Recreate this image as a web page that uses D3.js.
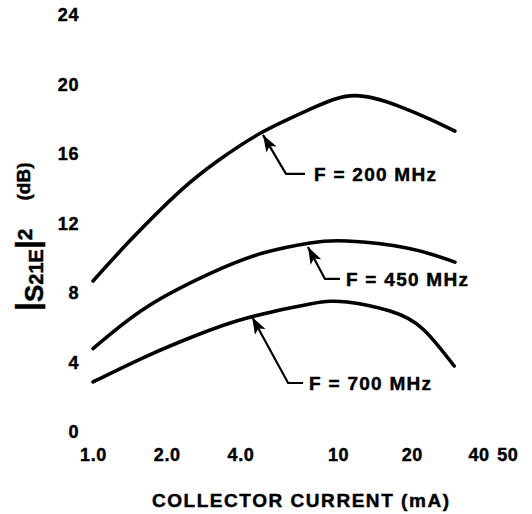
<!DOCTYPE html>
<html>
<head>
<meta charset="utf-8">
<script src="https://cdn.jsdelivr.net/npm/d3@7"></script>
<style>
  html, body { margin: 0; padding: 0; background: #fff; }
  svg { display: block; }
  text { font-family: "Liberation Sans", Arial, Helvetica, sans-serif; font-weight: bold; fill: #000;
         stroke: #000; stroke-width: 0.45px; }
</style>
</head>
<body>
<svg id="chart" width="532" height="514"></svg>
<script>
// ---- data ----
const xTickValues = [1, 2, 4, 10, 20, 40, 50];
const xTickLabels = ["1.0", "2.0", "4.0", "10", "20", "40", "50"];
const yTickValues = [0, 4, 8, 12, 16, 20, 24];
const yTickLabels = ["0", "4", "8", "12", "16", "20", "24"];

const seriesNames = ["F = 200 MHz", "F = 450 MHz", "F = 700 MHz"];
const current200 = [1.0, 1.42, 2.26, 3.30, 4.94, 7.69, 11.7, 17.9, 23.7, 30.0];
const gain200    = [8.69, 11.03, 13.85, 15.70, 17.28, 18.58, 19.36, 18.73, 18.01, 17.32];
const current450 = [1.0, 1.66, 3.09, 4.94, 7.69, 10.9, 19.1, 30.0];
const gain450    = [4.8, 7.2, 9.2, 10.3, 10.88, 10.99, 10.59, 9.78];
const current700 = [1.0, 1.66, 2.66, 4.25, 7.69, 10.9, 16.3, 22.2, 29.8];
const gain700    = [2.88, 4.37, 5.58, 6.56, 7.37, 7.48, 6.96, 5.93, 3.80];

// arrow tips (collector current mA, gain dB)
const arrowTipCurrent = [4.94, 7.54, 4.46];
const arrowTipGain    = [17.1, 10.65, 6.62];

const xTitle = "COLLECTOR CURRENT (mA)";

// ---- drawing ----
const svg = d3.select("#chart");
const x = d3.scaleLog().domain([1, 50]).range([93, 93 + 245 * Math.log10(50)]);
const y = d3.scaleLinear().domain([0, 24]).range([432, 15]);

// x tick labels
const xAxis = d3.axisBottom(x).tickValues(xTickValues)
  .tickFormat((d, i) => xTickLabels[i]).tickSize(0).tickPadding(0);
const gx = svg.append("g").attr("transform", "translate(0,448)").call(xAxis);
gx.select(".domain").remove();
gx.selectAll("text")
  .attr("font-family", null).attr("fill", "#000")
  .style("font-size", "18px").style("letter-spacing", "0.6px")
  .attr("dy", "0.71em")
  .attr("dx", (d) => d === 40 ? -7 : (d === 50 ? -2 : 0));

// y tick labels
const yAxis = d3.axisLeft(y).tickValues(yTickValues)
  .tickFormat((d, i) => yTickLabels[i]).tickSize(0).tickPadding(0);
const gy = svg.append("g").attr("transform", "translate(79,0)").call(yAxis);
gy.select(".domain").remove();
gy.selectAll("text")
  .attr("font-family", null).attr("fill", "#000")
  .style("font-size", "18px").style("letter-spacing", "0.6px");

// curves
const line = d3.line()
  .x((d) => x(d[0])).y((d) => y(d[1]))
  .curve(d3.curveNatural);
const seriesData = [
  d3.zip(current200, gain200),
  d3.zip(current450, gain450),
  d3.zip(current700, gain700)
];
svg.append("g").selectAll("path").data(seriesData).join("path")
  .attr("d", line)
  .attr("fill", "none")
  .attr("stroke", "#000")
  .attr("stroke-width", 3.6)
  .attr("stroke-linecap", "round");

// annotations: pixel offsets from tip: elbow, end of leader, text start
const annOffsets = [
  { ex: 23, ey: 39, lx: 42, tx: 51 },
  { ex: 17, ey: 32, lx: 32, tx: 38 },
  { ex: 36, ey: 66, lx: 51, tx: 57 }
];
const ann = svg.append("g");
seriesNames.forEach((name, i) => {
  const tx = x(arrowTipCurrent[i]), ty = y(arrowTipGain[i]);
  const o = annOffsets[i];
  const ex = tx + o.ex, ey = ty + o.ey;
  ann.append("path")
    .attr("d", d3.line()([[tx, ty], [ex, ey], [tx + o.lx, ey]]))
    .attr("fill", "none").attr("stroke", "#000").attr("stroke-width", 2.2);
  const ang = Math.atan2(ty - ey, tx - ex);
  const L = 17, W = 6;
  const bx = tx - L * Math.cos(ang), by = ty - L * Math.sin(ang);
  const px = -Math.sin(ang), py = Math.cos(ang);
  ann.append("path")
    .attr("d", `M${tx},${ty}L${bx + W * px},${by + W * py}L${bx + 4 * Math.cos(ang)},${by + 4 * Math.sin(ang)}L${bx - W * px},${by - W * py}Z`)
    .attr("fill", "#000");
  ann.append("text")
    .attr("x", tx + o.tx).attr("y", ey)
    .attr("dy", "0.36em")
    .attr("textLength", 122).attr("lengthAdjust", "spacing")
    .style("font-size", "19px")
    .text(name);
});

// x axis title
svg.append("text")
  .attr("x", 152).attr("y", 507)
  .attr("textLength", 297).attr("lengthAdjust", "spacing")
  .style("font-size", "19px")
  .text(xTitle);

// y axis title (rotated)
const yt = svg.append("text")
  .attr("transform", "translate(42.5,311) rotate(-90)");
yt.append("tspan").style("font-size", "32px").attr("dy", -5).text("|");
yt.append("tspan").style("font-size", "26px").attr("dy", 5).text("S");
yt.append("tspan").style("font-size", "20px").text("21E");
yt.append("tspan").style("font-size", "32px").attr("dy", -5).text("|");
yt.append("tspan").style("font-size", "21px").attr("dy", -5.5).text("2");
yt.append("tspan").style("font-size", "19px").attr("dx", 28).attr("dy", -2).text("(dB)");
</script>
</body>
</html>
